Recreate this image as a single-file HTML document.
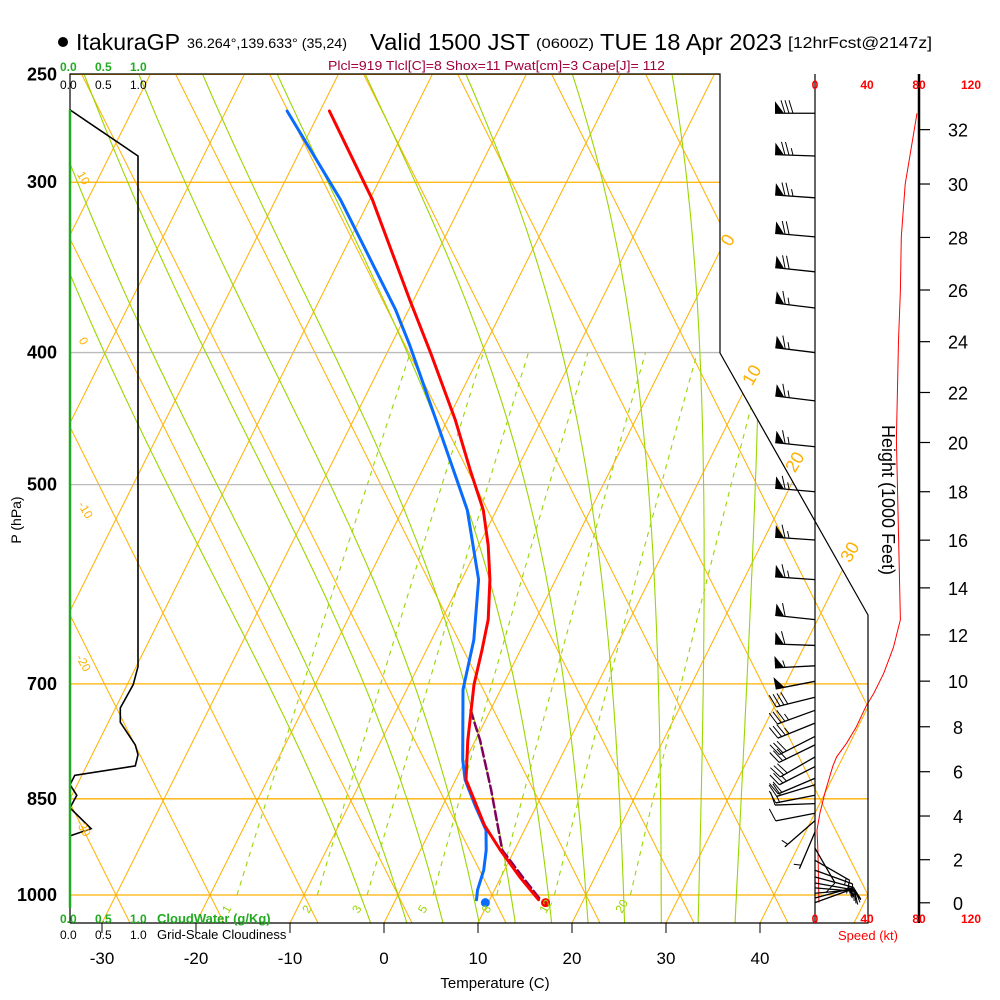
<!DOCTYPE html>
<html><head><meta charset="utf-8"><style>
html,body{margin:0;padding:0;background:#fff;}
svg{display:block;font-family:"Liberation Sans",sans-serif;}
</style></head><body>
<svg id="chart" width="1000" height="1000" viewBox="0 0 1000 1000" xmlns="http://www.w3.org/2000/svg">
<defs><clipPath id="plotclip"><polygon points="70,74 720,74 720,353 868,615 868,923 70,923"/></clipPath></defs>
<rect width="1000" height="1000" fill="#fff"/>
<g>
<circle cx="63" cy="42" r="5" fill="#000"/>
<text x="76" y="50" font-size="23" textLength="104" lengthAdjust="spacingAndGlyphs">ItakuraGP</text>
<text x="187" y="48" font-size="14" textLength="160" lengthAdjust="spacingAndGlyphs">36.264°,139.633° (35,24)</text>
<text x="370" y="50" font-size="23" textLength="160" lengthAdjust="spacingAndGlyphs">Valid 1500 JST</text>
<text x="536" y="48" font-size="14" textLength="58" lengthAdjust="spacingAndGlyphs">(0600Z)</text>
<text x="600" y="50" font-size="23" textLength="182" lengthAdjust="spacingAndGlyphs">TUE 18 Apr 2023</text>
<text x="788" y="48" font-size="16" textLength="144" lengthAdjust="spacingAndGlyphs">[12hrFcst@2147z]</text>
</g>
<text x="328" y="70" font-size="13" fill="#a0003c" textLength="337" lengthAdjust="spacingAndGlyphs">Plcl=919 Tlcl[C]=8 Shox=11 Pwat[cm]=3 Cape[J]= 112</text>
<g id="grid" clip-path="url(#plotclip)"></g>
<g id="marks"></g>
<g id="axes"></g>
</svg>
<script>
// ---- data ----
const P_T=[266,309,366,400,448,488,522,554,587,628,661,701,770,823,842,889,927,970,1008];
const T_T=[-49.0,-39.7,-30.4,-25.4,-19.2,-14.9,-11.4,-9.0,-7.0,-5.05,-4.1,-3.1,-0.8,1.1,2.4,5.5,8.5,12.0,15.2];
const P_D=[266,309,372,395,456,522,587,650,707,796,823,859,896,927,959,992,1008];
const T_D=[-53.5,-43.1,-31.4,-28.0,-20.3,-13.1,-8.2,-5.5,-4.0,-0.3,1.0,3.4,5.9,7.0,7.8,8.2,8.6];
const P_PAR=[732,770,837,927,975,1008];
const T_PAR=[-2.1,0.5,4.3,8.7,12.7,15.4];
const SFC_P=1013, SFC_T=16.1, SFC_TD=9.7;
const P_C=[265.5,287,680,701,729,747,776,789,804,817,830,845,863,894,905];
const C_V=[0,1,1,0.93,0.74,0.74,0.96,1,0.96,0.07,0,0.1,0,0.31,0];
const P_S=[267,301,329,360,392,428,463,628,658,688,711,727,753,774,792,805,842,871,896,931,1013];
const S_V=[78.5,69.4,66.4,65.7,64.2,63.4,62.6,65.7,60.4,52.8,45.3,39.2,31.7,24.2,16.6,13.6,7.5,3.8,1.5,2.3,3];
const BARB_P=[267,287,308,329,349,371,400,434,469,506,549,587,628,656,679,697,716,732,748,765,776,792,805,821,830,845,857,871,882,899,924,943,959,970,980,988,997,1005,1013];
const BARB_D=[270,272,274,275,276,277,277,277,276,275,274,274,276,272,267,259,256,250,248,243,244,240,243,247,253,259,268,259,229,203,150,120,110,105,100,95,85,75,70];
const BARB_S=[80,75,75,70,70,65,65,65,65,65,65,65,60,60,55,50,40,35,35,30,30,30,25,20,20,15,10,10,5,5,10,15,15,15,15,15,15,15,15];
const P_LEVELS=[250,300,400,500,700,850,1000];
const T_TICKS=[-30,-20,-10,0,10,20,30,40];
const MR_W=[1,2,3,5,8,12,20];
const THETAW=[-4,0,4,8,12,16,20,24,28,32,36];
const H_TICKS=[0,2,4,6,8,10,12,14,16,18,20,22,24,26,28,30,32];
const SPD_TICKS=[0,40,80,120];

// ---- scales ----
const NS="http://www.w3.org/2000/svg";
function yP(p){return 895-592*Math.log(1000/p);}
function xT(T,y){return 384+9.4*T+0.5*(923-y);}
function xS(s){return 815+1.3*s;}
function pFromFt(kft){const z=kft*1000*0.3048;return 1013.25*Math.pow(1-2.25577e-5*z,5.25588);}
function mk(tag,attrs,parent){const e=document.createElementNS(NS,tag);for(const k in attrs)e.setAttribute(k,attrs[k]);parent.appendChild(e);return e;}
const grid=document.getElementById('grid'), marks=document.getElementById('marks'), axes=document.getElementById('axes');

for(let T=-120;T<=50;T+=10){
 const l=mk('line',{x1:xT(T,923),y1:923,x2:xT(T,74),y2:74,stroke:'#ffb000','stroke-width':1},grid);
 
 
}
for(let k=-4;k<=16;k++){
 const x0=116+94*k;
 const l=mk('line',{x1:x0+0.5*28,y1:923,x2:x0-0.5*821,y2:74,stroke:'#ffb000','stroke-width':1},grid);
 
 
}
P_LEVELS.forEach(p=>{
 const y=yP(p);
 const col=(p===400||p===500)?'#bbbbbb':'#ffb000';
 const l=mk('line',{x1:70,y1:y,x2:868,y2:y,stroke:col,'stroke-width':1.3},grid);
 
 
});
function es(Tc){return 6.112*Math.exp(17.67*Tc/(Tc+243.5));}
function dTdp(T,p){const Tc=T-273.15;const e=es(Tc);const rs=0.622*e/(p-e);const Rd=287,cp=1005,Lv=2.5e6;
 return (1/p)*(Rd*T+Lv*rs)/(cp+Lv*Lv*rs*0.622/(Rd*T*T));}
THETAW.forEach(tw=>{
 const pts=[];
 let T=tw+273.15;
 for(let p=1000;p<=1050;p+=5){pts.push([p,T]);T+=dTdp(T,p)*5;}
 T=tw+273.15;
 for(let p=1000;p>=245;p-=5){T-=dTdp(T,p)*5;pts.push([p-5,T]);}
 pts.sort((a,b)=>a[0]-b[0]);
 const d=pts.map((q,i)=>{const y=yP(q[0]);return (i?'L':'M')+xT(q[1]-273.15,y).toFixed(1)+','+y.toFixed(1);}).join('');
 const path=mk('path',{d:d,fill:'none',stroke:'#99d600','stroke-width':1.1},grid);
 
 
});
MR_W.forEach(w=>{
 const pts=[];
 for(let p=1000;p>=400;p-=20){const e=w*p/(622+w);const a=Math.log(e/6.112);const Td=243.5*a/(17.67-a);const y=yP(p);pts.push([xT(Td,y),y]);}
 const d=pts.map((q,i)=>(i?'L':'M')+q[0].toFixed(1)+','+q[1].toFixed(1)).join('');
 const path=mk('path',{d:d,fill:'none',stroke:'#99d600','stroke-width':1.1,'stroke-dasharray':'5,5'},grid);
 
 
 const y=912;const e=w*1000/(622+w);const a=Math.log(e/6.112);const Td=243.5*a/(17.67-a);
 const t=mk('text',{x:xT(Td,895)-12,y:y+4,'font-size':12,fill:'#99d600',transform:`rotate(-60 ${xT(Td,895)-12} ${y})`},axes);
 t.textContent=w;
 
 
});

function profile(P,T,attrs,name){
 const d=P.map((p,i)=>{const y=yP(p);return (i?'L':'M')+xT(T[i],y).toFixed(1)+','+y.toFixed(1);}).join('');
 const el=mk('path',Object.assign({d:d,fill:'none','stroke-linejoin':'round','stroke-linecap':'round'},attrs),marks);
 
 
}
profile(P_PAR,T_PAR,{stroke:'#800060','stroke-width':2.5,'stroke-dasharray':'9,4'},'parcel-curve');
profile(P_D,T_D,{stroke:'#0a6cff','stroke-width':3},'dewpoint-curve');
profile(P_T,T_T,{stroke:'#ff0000','stroke-width':3},'temperature-curve');
{const y=yP(SFC_P);
 const c1=mk('circle',{cx:xT(SFC_T,y),cy:y,r:4.5,fill:'#ff0000'},marks);
 
 
 const c2=mk('circle',{cx:xT(SFC_TD,y),cy:y,r:4.5,fill:'#0a6cff'},marks);
 
 }

{const d=P_C.map((p,i)=>(i?'L':'M')+(70+68*C_V[i]).toFixed(1)+','+yP(p).toFixed(1)).join('');
 const el=mk('path',{d:d,fill:'none',stroke:'#000','stroke-width':1.6},marks);
 
 }
{const d=P_S.map((p,i)=>(i?'L':'M')+xS(S_V[i]).toFixed(1)+','+yP(p).toFixed(1)).join('');
 const el=mk('path',{d:d,fill:'none',stroke:'#ff0000','stroke-width':1},marks);
 
 }

BARB_P.forEach((p,i)=>{
 const g=mk('g',{},marks);
 
 
 const bx=815,by=yP(p),L=40,rad=BARB_D[i]*Math.PI/180;
 const ux=Math.sin(rad),uy=-Math.cos(rad);
 const tx=bx+ux*L,ty=by+uy*L;
 const nx=-uy,ny=ux;
 mk('line',{x1:bx,y1:by,x2:tx,y2:ty,stroke:'#000','stroke-width':1.3},g);
 let s=Math.round(BARB_S[i]/5)*5,pos=0;
 while(s>=50){
  const ax=tx-ux*pos,ay=ty-uy*pos;
  mk('polygon',{points:`${ax},${ay} ${ax+nx*12},${ay+ny*12} ${ax-ux*9},${ay-uy*9}`,fill:'#000'},g);
  pos+=10;s-=50;
 }
 while(s>=10){
  const ax=tx-ux*pos,ay=ty-uy*pos;
  mk('line',{x1:ax,y1:ay,x2:ax+nx*13+ux*4,y2:ay+ny*13+uy*4,stroke:'#000','stroke-width':1},g);
  pos+=4;s-=10;
 }
 if(s>=5){
  if(pos===0)pos=4;
  const ax=tx-ux*pos,ay=ty-uy*pos;
  mk('line',{x1:ax,y1:ay,x2:ax+nx*7+ux*2,y2:ay+ny*7+uy*2,stroke:'#000','stroke-width':1},g);
 }
});

function txt(x,y,s,attrs,name){const t=mk('text',Object.assign({x:x,y:y},attrs),axes);t.textContent=s;
 
 return t;}
{const f=mk('polyline',{points:'70,923 70,74 720,74 720,353 868,615 868,923 70,923',fill:'none',stroke:'#000','stroke-width':1.2},axes);
 
 
 const g=mk('line',{x1:70,y1:110,x2:70,y2:908,stroke:'#22aa22','stroke-width':2.5},axes);
 
 
 const s=mk('line',{x1:815,y1:74,x2:815,y2:923,stroke:'#000','stroke-width':1.2},axes);
 
 
 const h=mk('line',{x1:919,y1:74,x2:919,y2:923,stroke:'#000','stroke-width':2.5},axes);
 
 }
P_LEVELS.forEach(p=>txt(57,yP(p)+6,String(p),{'font-size':18,'text-anchor':'end','font-weight':'bold'},'pressure-label'));
T_TICKS.forEach(T=>{const x=xT(T,923);
 const l=mk('line',{x1:x,y1:923,x2:x,y2:933,stroke:'#000','stroke-width':1},axes);
 
 
 txt(x,964,String(T),{'font-size':17,'text-anchor':'middle'},'temperature-tick-label');});
H_TICKS.forEach(h=>{const y=yP(pFromFt(h));
 const l=mk('line',{x1:919,y1:y,x2:930,y2:y,stroke:'#000','stroke-width':1.2},axes);
 
 
 txt(958,y+7,String(h),{'font-size':18,'text-anchor':'middle'},'height-tick-label');});
SPD_TICKS.forEach(s=>{txt(xS(s),89,String(s),{'font-size':12,'text-anchor':'middle',fill:'#ff0000','font-weight':'bold'},'speed-tick-label-top');
 txt(xS(s),923,String(s),{'font-size':12,'text-anchor':'middle',fill:'#ff0000','font-weight':'bold'},'speed-tick-label-bottom');});
txt(868,940,'Speed (kt)',{'font-size':13,'text-anchor':'middle',fill:'#ff0000'},'speed-axis-title');
txt(495,988,'Temperature (C)',{'font-size':15,'text-anchor':'middle'},'x-axis-title');
txt(0,0,'P (hPa)',{'font-size':14,'text-anchor':'middle',transform:'translate(21,520) rotate(-90)'},'y-axis-title');
txt(0,0,'Height (1000 Feet)',{'font-size':18,'text-anchor':'middle',transform:'translate(882,500) rotate(90)'},'height-axis-title');
[[60,'0.0'],[95,'0.5'],[130,'1.0']].forEach(a=>{
 txt(a[0],71,a[1],{'font-size':12,fill:'#22aa22','font-weight':'bold'},'cloudwater-scale-label');
 txt(a[0],89,a[1],{'font-size':12},'cloudiness-scale-label');
 txt(a[0],923,a[1],{'font-size':12,fill:'#22aa22','font-weight':'bold'},'cloudwater-scale-label');
 txt(a[0],939,a[1],{'font-size':12},'cloudiness-scale-label');});
txt(157,923,'CloudWater (g/Kg)',{'font-size':13,fill:'#22aa22','font-weight':'bold'},'cloudwater-title');
txt(157,939,'Grid-Scale Cloudiness',{'font-size':13},'cloudiness-title');
[[733,243,'0'],[757,378,'10'],[800,465,'20'],[855,555,'30']].forEach(a=>
 txt(0,0,a[2],{'font-size':18,fill:'#ffb000',transform:`translate(${a[0]},${a[1]}) rotate(-60)`,'text-anchor':'middle'},'isotherm-label'));
[[80,180,'10'],[80,343,'0'],[82,512,'-10'],[80,665,'-20'],[80,830,'-30']].forEach(a=>
 txt(0,0,a[2],{'font-size':12,fill:'#ffb000',transform:`translate(${a[0]},${a[1]}) rotate(60)`,'text-anchor':'middle'},'dry-adiabat-label'));
</script>
</body></html>
